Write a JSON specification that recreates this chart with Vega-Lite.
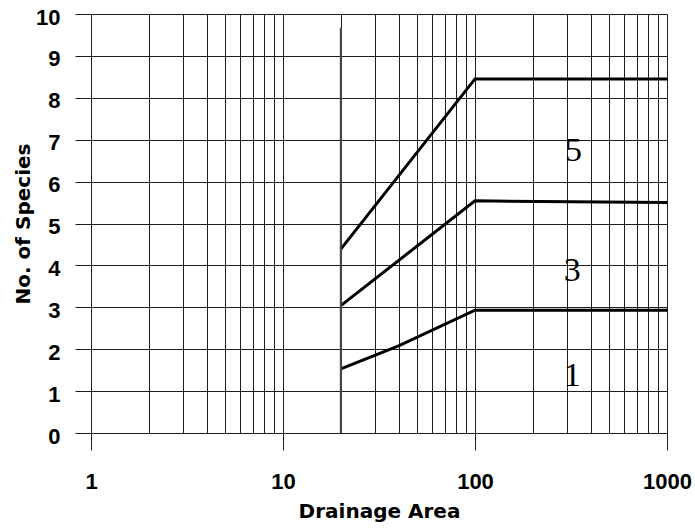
{
  "$schema": "https://vega.github.io/schema/vega-lite/v6.json",
  "width": 576,
  "height": 419,
  "autosize": {"type": "none"},
  "padding": {"left": 91, "top": 14, "right": 28, "bottom": 98},
  "background": "white",
  "config": {"view": {"stroke": null}},
  "datasets": {
    "curves": [
      {"series": "1", "x": 20, "y": 1.53},
      {"series": "1", "x": 40, "y": 2.08},
      {"series": "1", "x": 100, "y": 2.93},
      {"series": "1", "x": 1000, "y": 2.93},
      {"series": "3", "x": 20, "y": 3.04},
      {"series": "3", "x": 100, "y": 5.54},
      {"series": "3", "x": 1000, "y": 5.5},
      {"series": "5", "x": 20, "y": 4.39},
      {"series": "5", "x": 100, "y": 8.45},
      {"series": "5", "x": 1000, "y": 8.45}
    ],
    "divider": [{"x": 20, "ylo": 0, "yhi": 9.67}],
    "labels": [
      {"x": 326, "y": 6.48, "label": "5"},
      {"x": 321, "y": 3.62, "label": "3"},
      {"x": 321, "y": 1.13, "label": "1"}
    ]
  },
  "layer": [
    {
      "data": {"name": "curves"},
      "mark": {"type": "line", "color": "black", "strokeWidth": 3, "strokeJoin": "miter"},
      "encoding": {
        "x": {
          "field": "x",
          "type": "quantitative",
          "scale": {"type": "log", "domain": [1, 1000], "nice": false},
          "axis": {
            "values": [1,2,3,4,5,6,7,8,9,10,20,30,40,50,60,70,80,90,100,200,300,400,500,600,700,800,900,1000],
            "grid": true,
            "gridColor": "#1e1e1e",
            "gridWidth": 1,
            "gridOpacity": 1,
            "domainColor": "#1e1e1e",
            "tickColor": "#1e1e1e",
            "tickSize": 17,
            "tickOpacity": {"condition": {"test": "datum.value == 1 || datum.value == 10 || datum.value == 100 || datum.value == 1000", "value": 1}, "value": 0},
            "labelExpr": "(datum.value == 1 || datum.value == 10 || datum.value == 100 || datum.value == 1000) ? ('' + datum.value) : ''",
            "labelFont": "Liberation Sans",
            "labelFontWeight": "bold",
            "labelFontSize": 22,
            "labelColor": "black",
            "labelPadding": 21,
            "labelOverlap": false,
            "labelFlush": false,
            "title": "Drainage Area",
            "titleFont": "DejaVu Sans",
            "titleFontWeight": "bold",
            "titleFontSize": 20,
            "titleColor": "black",
            "titlePadding": 9
          }
        },
        "y": {
          "field": "y",
          "type": "quantitative",
          "scale": {"domain": [0, 10], "nice": false},
          "axis": {
            "values": [0,0.5,1,1.5,2,2.5,3,3.5,4,4.5,5,5.5,6,6.5,7,7.5,8,8.5,9,9.5,10],
            "grid": true,
            "gridColor": "#1e1e1e",
            "gridWidth": 1,
            "gridOpacity": 1,
            "domainColor": "#1e1e1e",
            "tickColor": "#1e1e1e",
            "tickSize": 16,
            "tickOpacity": {"condition": {"test": "datum.value % 1 == 0", "value": 1}, "value": 0},
            "labelExpr": "datum.value % 1 == 0 ? ('' + datum.value) : ''",
            "labelFont": "Liberation Sans",
            "labelFontWeight": "bold",
            "labelFontSize": 22,
            "labelColor": "black",
            "labelPadding": 15,
            "labelOffset": 3,
            "labelOverlap": false,
            "labelFlush": false,
            "title": "No. of Species",
            "titleFont": "DejaVu Sans",
            "titleFontWeight": "bold",
            "titleFontSize": 20,
            "titleColor": "black",
            "titlePadding": 2
          }
        },
        "detail": {"field": "series", "type": "nominal"}
      }
    },
    {
      "data": {"name": "divider"},
      "mark": {"type": "rule", "color": "#4a4a4a", "strokeWidth": 2},
      "encoding": {
        "x": {"field": "x", "type": "quantitative"},
        "y": {"field": "ylo", "type": "quantitative"},
        "y2": {"field": "yhi"}
      }
    },
    {
      "data": {"name": "labels"},
      "mark": {"type": "text", "font": "Liberation Serif", "fontSize": 34, "color": "black", "align": "center", "baseline": "alphabetic"},
      "encoding": {
        "x": {"field": "x", "type": "quantitative"},
        "y": {"field": "y", "type": "quantitative"},
        "text": {"field": "label", "type": "nominal"}
      }
    }
  ]
}
